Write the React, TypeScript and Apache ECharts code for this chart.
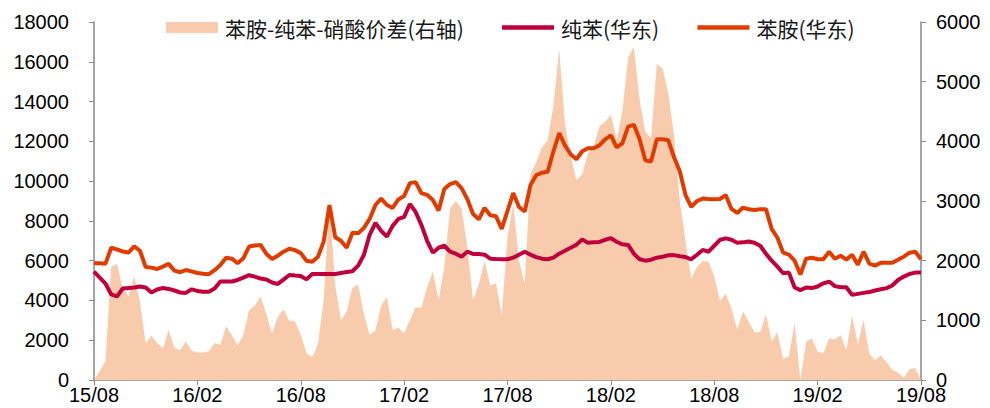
import React, { useEffect, useRef } from "react";
import * as echarts from "echarts";

// x axis: 3 points per month from 2015-08 to 2019-08 (145 points); labels every 6 months
const tickLabels = ["15/08", "16/02", "16/08", "17/02", "17/08", "18/02", "18/08", "19/02", "19/08"];
const pointsPerLabel = 18;

const spreadName = "苯胺-纯苯-硝酸价差(右轴)";
const benzeneName = "纯苯(华东)";
const anilineName = "苯胺(华东)";

// 纯苯(华东), left axis
const benzene = [
  5450, 5150, 4850, 4300, 4200, 4600, 4620, 4650, 4700, 4650,
  4400, 4550, 4630, 4580, 4500, 4400, 4380, 4560, 4480, 4440,
  4440, 4600, 4950, 4950, 4950, 5030, 5150, 5270, 5200, 5100,
  5050, 4900, 4830, 5050, 5280, 5250, 5230, 5060, 5330, 5330,
  5330, 5330, 5330, 5380, 5430, 5470, 5750, 6300, 7300, 7900,
  7500, 7210, 7750, 8100, 8200, 8850, 8450, 7800, 7000, 6400,
  6650, 6750, 6450, 6350, 6200, 6450, 6340, 6340, 6300, 6100,
  6080, 6070, 6070, 6150, 6300, 6450, 6300, 6180, 6100, 6070,
  6150, 6350, 6500, 6650, 6800, 7070, 6900, 6920, 6940, 7050,
  7130, 6950, 6820, 6790, 6350, 6070, 6000, 6050, 6150, 6200,
  6270, 6280, 6220, 6180, 6070, 6300, 6540, 6450, 6750, 7050,
  7120, 7050, 6900, 6920, 6960, 6900, 6750, 6350, 6000, 5700,
  5370, 5400, 4650, 4520, 4650, 4620, 4700, 4860, 4950, 4720,
  4660, 4660, 4280, 4330, 4380, 4420, 4500, 4560, 4620, 4750,
  5030, 5200, 5330, 5400, 5400,
];

// 苯胺(华东), left axis
const aniline = [
  5870, 5870, 5850, 6650, 6570, 6460, 6410, 6720, 6500, 5680,
  5650, 5580, 5700, 5840, 5500, 5420, 5530, 5460, 5380, 5340,
  5320, 5520, 5780, 6150, 6100, 5870, 6120, 6710, 6760, 6790,
  6350, 6080, 6250, 6450, 6600, 6530, 6380, 6000, 5950, 6200,
  6970, 8800, 7180, 7000, 6650, 7400, 7380, 7650, 8100, 8800,
  9120, 8800, 8650, 9080, 9250, 9900, 9950, 9400, 9310, 9050,
  8520, 9600, 9850, 9950, 9650, 9100, 8350, 8080, 8650, 8280,
  8230, 7600, 8500, 9400, 8700, 8470, 9800, 10300, 10420, 10470,
  11500, 12410, 11800, 11350, 11100, 11500, 11650, 11650, 11800, 12100,
  12300, 11700, 11900, 12740, 12830, 12100, 11050, 10990, 12100, 12100,
  12050, 11200, 10500, 9300, 8700, 9000, 9120, 9100, 9090, 9100,
  9300, 8600, 8400, 8670, 8580, 8550, 8580, 8590, 7600, 7150,
  6400, 6300, 6000, 5300, 6100, 6150, 6070, 6070, 6450, 6100,
  6250, 6050, 6300, 5800, 6450, 5850, 5750, 5900, 5900, 5900,
  6050, 6200, 6400, 6450, 6070,
];

// 苯胺-纯苯-硝酸价差, right axis
const spread = [
  0, 150, 320, 1900, 1950, 1550, 1400, 1740, 1310, 615,
  740, 620, 530, 840, 540, 500, 650, 490, 460, 460,
  480, 620, 590, 900, 750, 580, 755, 1170, 1250, 1400,
  1100, 780, 1060, 1185, 995, 980, 760, 450, 380, 600,
  1350, 3000, 1590, 1000, 1150, 1550, 1600, 1100, 760, 830,
  1250, 1390, 840, 880, 780, 1000, 1220, 1210, 1550, 1820,
  1340, 1900, 2880, 3000, 2880, 2235, 1340, 1600, 2000, 1590,
  1620, 1100, 2400, 2960, 2000, 1620, 3450, 3650, 3900, 4020,
  4600, 5550, 4300, 3750, 3350, 3450, 3800, 3920, 4250, 4330,
  4450, 4030, 4500, 5400, 5580, 4700, 4160, 4050, 5300, 5220,
  4800, 4100, 3000, 2320, 1700, 1900, 1990, 1980, 1740, 1330,
  1450, 1200, 850, 1150, 980, 800, 800, 1100, 650, 800,
  350, 400, 950, 0, 650, 700, 475, 450, 700, 680,
  750, 500, 1080, 600, 1000, 450, 330, 410, 300, 170,
  120, 40, 180, 200, 0,
];

const categories = benzene.map((_, i) =>
  i % pointsPerLabel === 0 ? tickLabels[i / pointsPerLabel] : `p${i}`
);

const numFont = "'Liberation Sans', Arial, sans-serif";
const cjkFont = "'Noto Sans CJK SC', sans-serif";
const axisGray = "#898989";
const plain = (v: number) => String(v);

export default function App() {
  const ref = useRef<HTMLDivElement>(null);

  useEffect(() => {
    if (!ref.current) return;
    const chart = echarts.init(ref.current, null, { renderer: "svg" });
    chart.setOption({
      animation: false,
      backgroundColor: "#ffffff",
      grid: { left: 94, right: 69, top: 22, bottom: 28, outerBoundsMode: "none" },
      legend: {
        left: 161,
        top: 12,
        itemWidth: 52,
        itemHeight: 11,
        itemGap: 36,
        textStyle: { fontFamily: cjkFont, fontSize: 21, color: "#1a1a1a", padding: [0, 0, 0, 2] },
        data: [
          { name: spreadName, icon: "rect", textStyle: { width: 243 } },
          { name: benzeneName, itemStyle: { opacity: 0 }, lineStyle: { width: 4.5 }, textStyle: { width: 101 } },
          { name: anilineName, itemStyle: { opacity: 0 }, lineStyle: { width: 4.5 } },
        ],
      },
      xAxis: {
        type: "category",
        data: categories,
        boundaryGap: false,
        axisLine: { lineStyle: { color: axisGray, width: 1.5 } },
        axisTick: { interval: pointsPerLabel - 1, length: 5, lineStyle: { color: axisGray } },
        axisLabel: {
          interval: pointsPerLabel - 1,
          margin: 5,
          fontFamily: numFont,
          fontSize: 20,
          color: "#000",
        },
        splitLine: { show: false },
      },
      yAxis: [
        {
          type: "value",
          min: 0,
          max: 18000,
          interval: 2000,
          axisLine: { show: true, lineStyle: { color: axisGray, width: 1.5 } },
          axisTick: { show: true, length: 5, lineStyle: { color: axisGray } },
          axisLabel: { margin: 25, fontFamily: numFont, fontSize: 20, color: "#000", formatter: plain },
          splitLine: { show: false },
        },
        {
          type: "value",
          min: 0,
          max: 6000,
          interval: 1000,
          position: "right",
          axisLine: { show: true, lineStyle: { color: axisGray, width: 1.5 } },
          axisTick: { show: true, length: 5, lineStyle: { color: axisGray } },
          axisLabel: { margin: 15, fontFamily: numFont, fontSize: 20, color: "#000", formatter: plain },
          splitLine: { show: false },
        },
      ],
      series: [
        {
          name: spreadName,
          type: "line",
          yAxisIndex: 1,
          data: spread,
          symbol: "none",
          lineStyle: { width: 0 },
          itemStyle: { color: "#F8CBAD" },
          areaStyle: { color: "#F8CBAD", opacity: 1 },
          z: 1,
        },
        {
          name: benzeneName,
          type: "line",
          yAxisIndex: 0,
          data: benzene,
          symbol: "none",
          itemStyle: { color: "#C0003C" },
          lineStyle: { color: "#C0003C", width: 4 },
          z: 3,
        },
        {
          name: anilineName,
          type: "line",
          yAxisIndex: 0,
          data: aniline,
          symbol: "none",
          itemStyle: { color: "#E03C00" },
          lineStyle: { color: "#E03C00", width: 4 },
          z: 4,
        },
      ],
    });
    return () => chart.dispose();
  }, []);

  return (
    <div
      ref={ref}
      style={{ position: "fixed", left: 0, top: 0, width: 990, height: 408, background: "#fff" }}
    />
  );
}
